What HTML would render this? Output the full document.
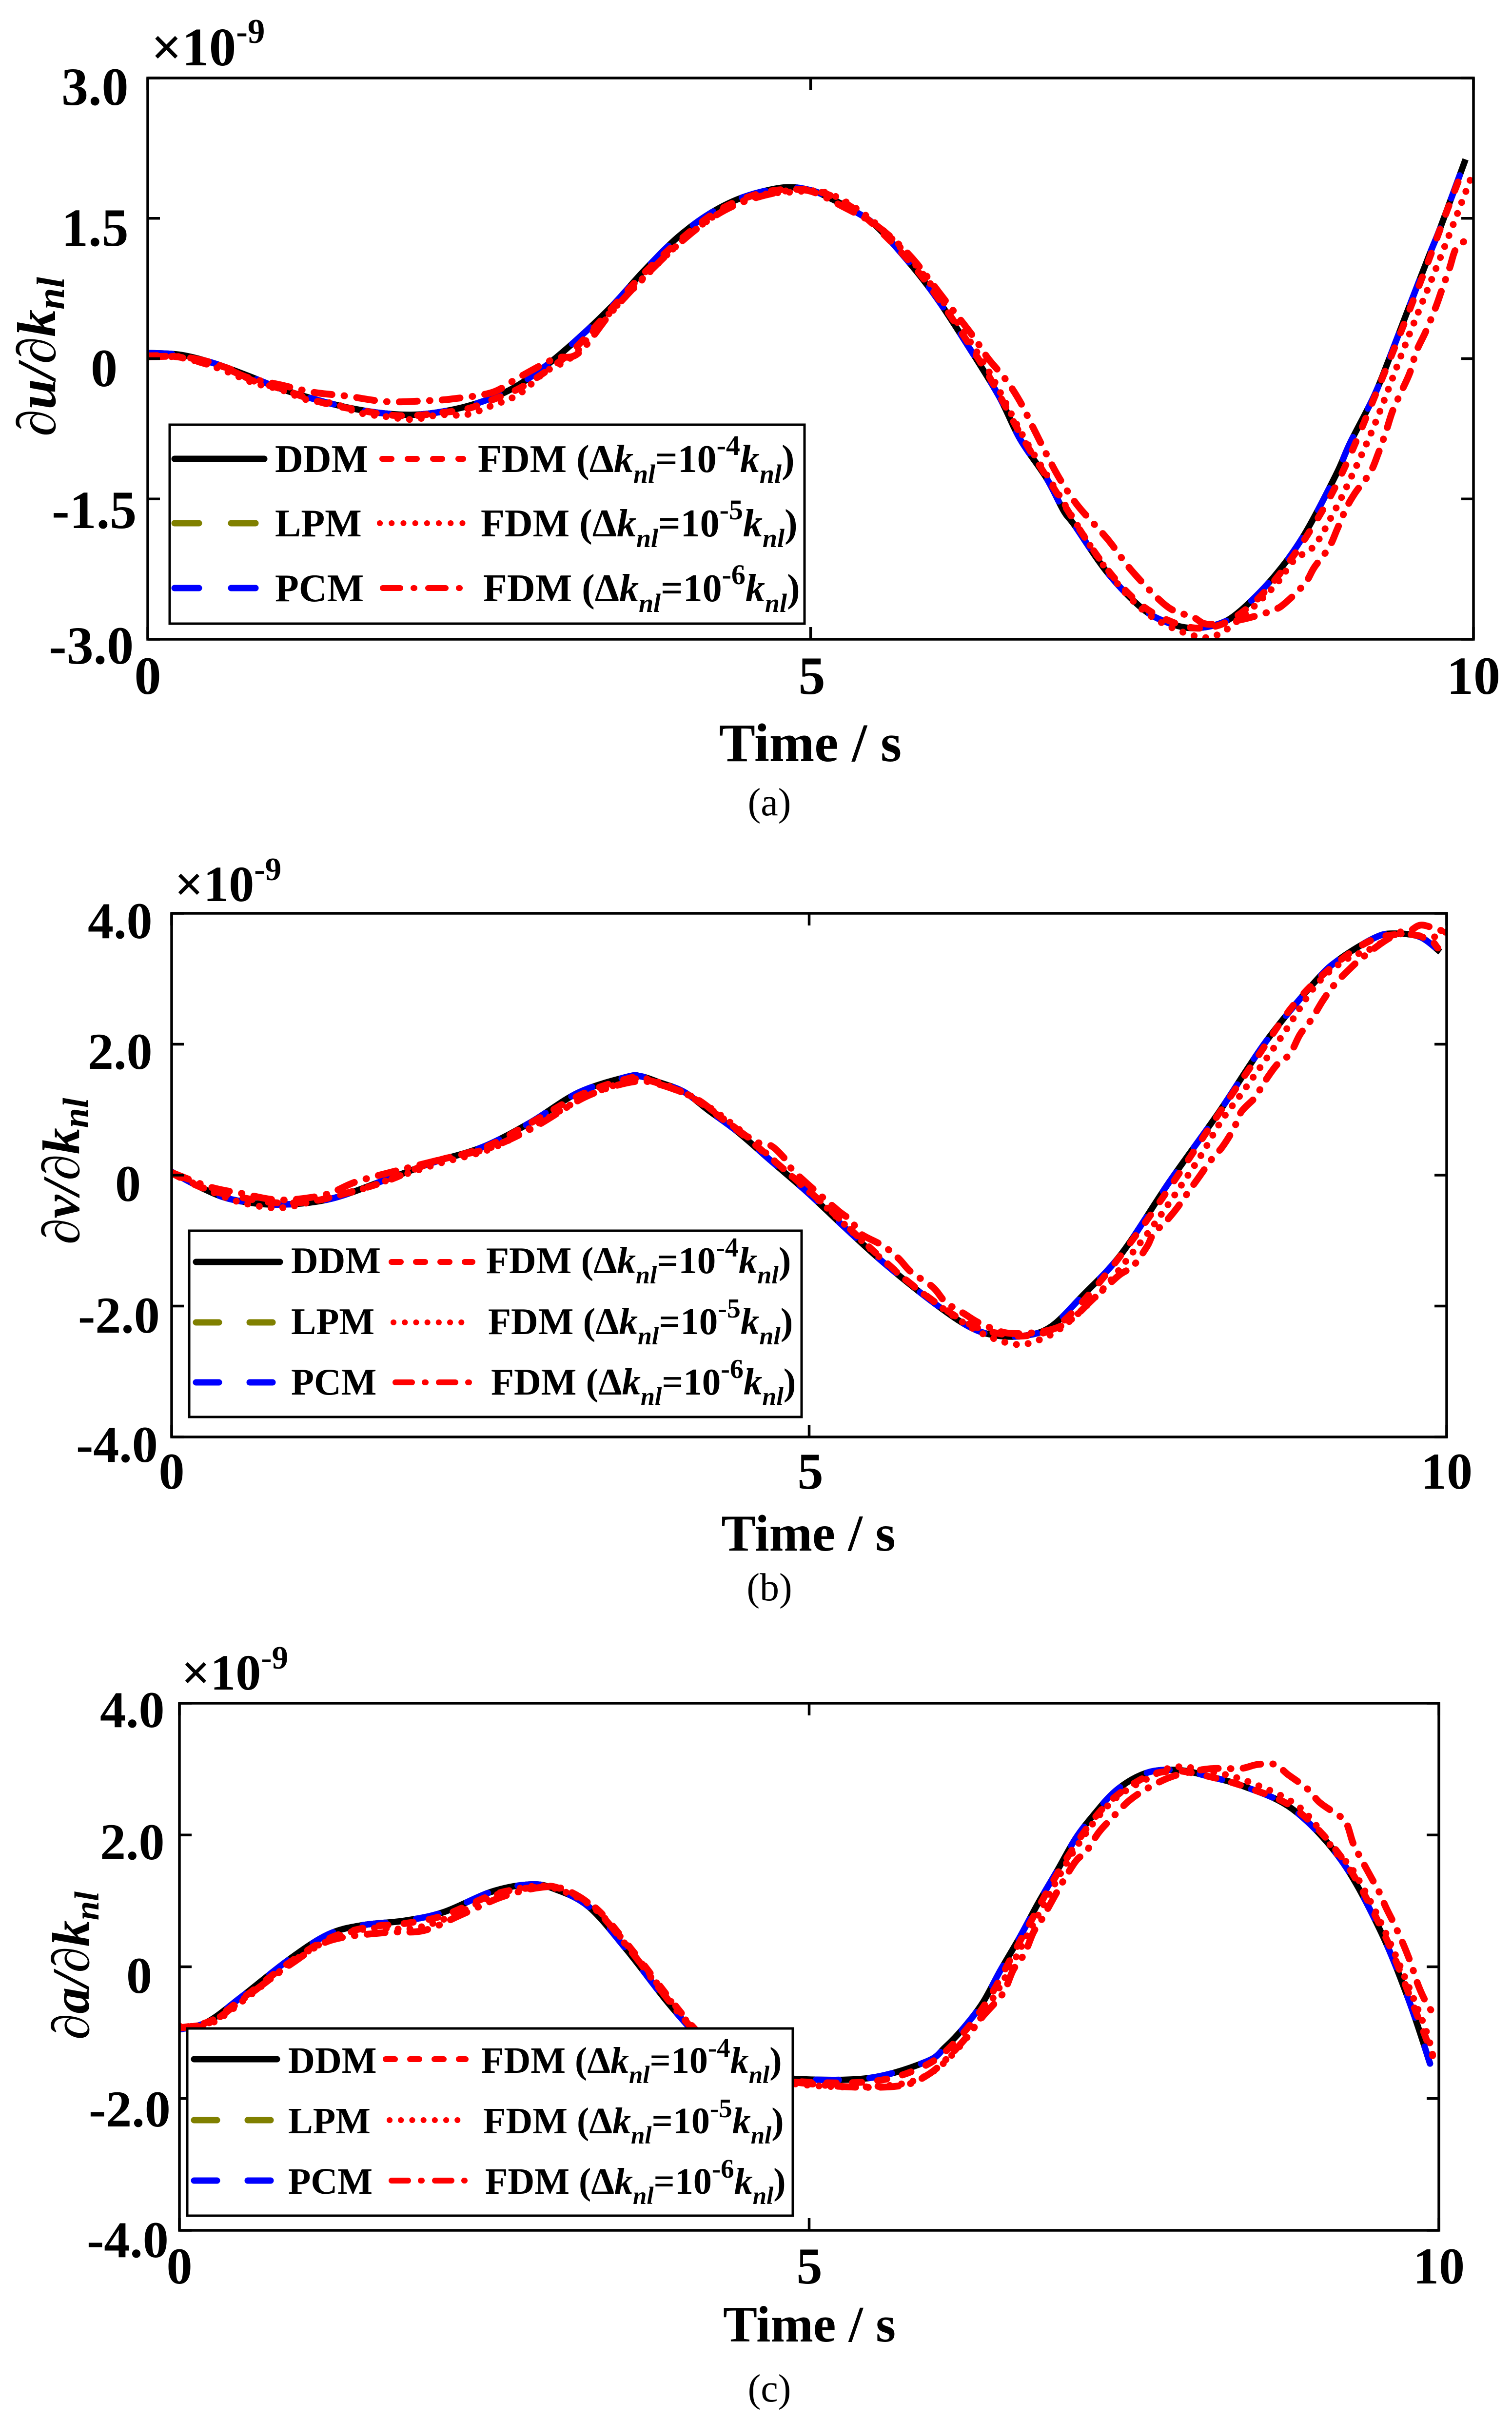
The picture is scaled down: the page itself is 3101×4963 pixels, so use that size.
<!DOCTYPE html>
<html lang="en">
<head>
<meta charset="utf-8">
<title>Sensitivity comparison charts</title>
<style>
html,body{margin:0;padding:0;background:#fff}
svg{display:block}
text{font-family:"Liberation Serif",serif;fill:#000}
.b{font-weight:bold}
.i{font-style:italic}
</style>
</head>
<body>
<svg id="chart" xmlns="http://www.w3.org/2000/svg" width="3101" height="4963" viewBox="0 0 3101 4963">
<rect x="0" y="0" width="3101" height="4963" fill="#fff"/>

<g id="panel-a">
  <g id="plot-a"></g>
  <g class="b" font-size="110">
    <text x="126" y="215">3.0</text>
    <text x="126" y="504">1.5</text>
    <text x="186" y="792">0</text>
    <text x="106" y="1083">-1.5</text>
    <text x="100" y="1361">-3.0</text>
  </g>
  <g class="b" font-size="110" text-anchor="middle">
    <text x="303" y="1423">0</text>
    <text x="1665" y="1423">5</text>
    <text x="3022" y="1423">10</text>
  </g>
  <text class="b" font-size="111" text-anchor="middle" x="1662" y="1561">Time / s</text>
  <text class="b" font-size="112" transform="translate(113 895) rotate(-90)"><tspan font-weight="normal">∂</tspan><tspan class="i">u</tspan><tspan class="i">/</tspan><tspan font-weight="normal">∂</tspan><tspan class="i">k</tspan><tspan class="i" font-size="80" dy="18">nl</tspan></text>
  <text class="b" font-size="111" x="310" y="134">×10<tspan font-size="71" dy="-46">-9</tspan></text>
  <text font-size="80" text-anchor="middle" x="1578" y="1672">(a)</text>
  <g>
    <rect x="348" y="871" width="1302" height="408" fill="#fff" stroke="#000" stroke-width="5"/>
    <line x1="358" y1="941" x2="542" y2="941" stroke="#000" stroke-width="13" stroke-linecap="round"/>
    <line x1="358" y1="1073" x2="525" y2="1073" stroke="#808000" stroke-width="13" stroke-linecap="round" stroke-dasharray="50 66"/>
    <line x1="358" y1="1206" x2="525" y2="1206" stroke="#0000ff" stroke-width="13" stroke-linecap="round" stroke-dasharray="50 66"/>
    <line x1="784" y1="941" x2="950" y2="941" stroke="#ff0000" stroke-width="12" stroke-linecap="round" stroke-dasharray="19 33"/>
    <line x1="779" y1="1073" x2="953" y2="1073" stroke="#ff0000" stroke-width="12" stroke-linecap="round" stroke-dasharray="0.1 24.1"/>
    <line x1="785" y1="1206" x2="944" y2="1206" stroke="#ff0000" stroke-width="12" stroke-linecap="round" stroke-dasharray="36 27 2 28"/>
    <g class="b" font-size="80">
      <text x="564" y="968">DDM</text>
      <text x="564" y="1100">LPM</text>
      <text x="564" y="1233">PCM</text>
      <text x="980" y="968">FDM (Δ<tspan class="i">k</tspan><tspan class="i" font-size="54" dy="22">nl</tspan><tspan dy="-22">=10</tspan><tspan font-size="58" dy="-35">-4</tspan><tspan class="i" dy="35">k</tspan><tspan class="i" font-size="54" dy="22">nl</tspan><tspan dy="-22">)</tspan></text>
      <text x="986" y="1100">FDM (Δ<tspan class="i">k</tspan><tspan class="i" font-size="54" dy="22">nl</tspan><tspan dy="-22">=10</tspan><tspan font-size="58" dy="-35">-5</tspan><tspan class="i" dy="35">k</tspan><tspan class="i" font-size="54" dy="22">nl</tspan><tspan dy="-22">)</tspan></text>
      <text x="991" y="1233">FDM (Δ<tspan class="i">k</tspan><tspan class="i" font-size="54" dy="22">nl</tspan><tspan dy="-22">=10</tspan><tspan font-size="58" dy="-35">-6</tspan><tspan class="i" dy="35">k</tspan><tspan class="i" font-size="54" dy="22">nl</tspan><tspan dy="-22">)</tspan></text>
    </g>
  </g>
</g>

<g id="panel-b">
  <g id="plot-b"></g>
  <g class="b" font-size="106">
    <text x="180" y="1924">4.0</text>
    <text x="180" y="2192">2.0</text>
    <text x="236" y="2463">0</text>
    <text x="160" y="2733">-2.0</text>
    <text x="156" y="2998">-4.0</text>
  </g>
  <g class="b" font-size="106" text-anchor="middle">
    <text x="352" y="3053">0</text>
    <text x="1662" y="3053">5</text>
    <text x="2967" y="3053">10</text>
  </g>
  <text class="b" font-size="106" text-anchor="middle" x="1658" y="3180">Time / s</text>
  <text class="b" font-size="108" transform="translate(162 2552) rotate(-90)"><tspan font-weight="normal">∂</tspan><tspan class="i">v</tspan><tspan class="i">/</tspan><tspan font-weight="normal">∂</tspan><tspan class="i">k</tspan><tspan class="i" font-size="74" dy="18">nl</tspan></text>
  <text class="b" font-size="104" x="358" y="1848">×10<tspan font-size="67" dy="-43">-9</tspan></text>
  <text font-size="80" text-anchor="middle" x="1578" y="3282">(b)</text>
  <g>
    <rect x="388" y="2524" width="1256" height="382" fill="#fff" stroke="#000" stroke-width="5"/>
    <line x1="402" y1="2588" x2="574" y2="2588" stroke="#000" stroke-width="13" stroke-linecap="round"/>
    <line x1="402" y1="2712" x2="562" y2="2712" stroke="#808000" stroke-width="13" stroke-linecap="round" stroke-dasharray="47 63"/>
    <line x1="402" y1="2835" x2="562" y2="2835" stroke="#0000ff" stroke-width="13" stroke-linecap="round" stroke-dasharray="47 63"/>
    <line x1="803" y1="2588" x2="969" y2="2588" stroke="#ff0000" stroke-width="12" stroke-linecap="round" stroke-dasharray="19 31"/>
    <line x1="807" y1="2712" x2="969" y2="2712" stroke="#ff0000" stroke-width="12" stroke-linecap="round" stroke-dasharray="0.1 23.1"/>
    <line x1="811" y1="2835" x2="963" y2="2835" stroke="#ff0000" stroke-width="12" stroke-linecap="round" stroke-dasharray="34 26 2 27"/>
    <g class="b" font-size="77">
      <text x="597" y="2611">DDM</text>
      <text x="597" y="2736">LPM</text>
      <text x="597" y="2860">PCM</text>
      <text x="997" y="2611">FDM (Δ<tspan class="i">k</tspan><tspan class="i" font-size="52" dy="21">nl</tspan><tspan dy="-21">=10</tspan><tspan font-size="56" dy="-34">-4</tspan><tspan class="i" dy="34">k</tspan><tspan class="i" font-size="52" dy="21">nl</tspan><tspan dy="-21">)</tspan></text>
      <text x="1001" y="2736">FDM (Δ<tspan class="i">k</tspan><tspan class="i" font-size="52" dy="21">nl</tspan><tspan dy="-21">=10</tspan><tspan font-size="56" dy="-34">-5</tspan><tspan class="i" dy="34">k</tspan><tspan class="i" font-size="52" dy="21">nl</tspan><tspan dy="-21">)</tspan></text>
      <text x="1007" y="2860">FDM (Δ<tspan class="i">k</tspan><tspan class="i" font-size="52" dy="21">nl</tspan><tspan dy="-21">=10</tspan><tspan font-size="56" dy="-34">-6</tspan><tspan class="i" dy="34">k</tspan><tspan class="i" font-size="52" dy="21">nl</tspan><tspan dy="-21">)</tspan></text>
    </g>
  </g>
</g>

<g id="panel-c">
  <g id="plot-c"></g>
  <g class="b" font-size="106">
    <text x="205" y="3542">4.0</text>
    <text x="205" y="3813">2.0</text>
    <text x="259" y="4087">0</text>
    <text x="182" y="4361">-2.0</text>
    <text x="178" y="4629">-4.0</text>
  </g>
  <g class="b" font-size="106" text-anchor="middle">
    <text x="368" y="4683">0</text>
    <text x="1660" y="4683">5</text>
    <text x="2951" y="4683">10</text>
  </g>
  <text class="b" font-size="105" text-anchor="middle" x="1660" y="4802">Time / s</text>
  <text class="b" font-size="108" transform="translate(182 4183) rotate(-90)"><tspan font-weight="normal">∂</tspan><tspan class="i">a</tspan><tspan class="i">/</tspan><tspan font-weight="normal">∂</tspan><tspan class="i">k</tspan><tspan class="i" font-size="71" dy="20">nl</tspan></text>
  <text class="b" font-size="104" x="372" y="3465">×10<tspan font-size="67" dy="-43">-9</tspan></text>
  <text font-size="80" text-anchor="middle" x="1578" y="4925">(c)</text>
  <g>
    <rect x="384" y="4160" width="1242" height="384" fill="#fff" stroke="#000" stroke-width="5"/>
    <line x1="398" y1="4223" x2="568" y2="4223" stroke="#000" stroke-width="13" stroke-linecap="round"/>
    <line x1="398" y1="4348" x2="558" y2="4348" stroke="#808000" stroke-width="13" stroke-linecap="round" stroke-dasharray="47 63"/>
    <line x1="398" y1="4472" x2="558" y2="4472" stroke="#0000ff" stroke-width="13" stroke-linecap="round" stroke-dasharray="47 63"/>
    <line x1="791" y1="4223" x2="955" y2="4223" stroke="#ff0000" stroke-width="12" stroke-linecap="round" stroke-dasharray="19 31"/>
    <line x1="799" y1="4348" x2="957" y2="4348" stroke="#ff0000" stroke-width="12" stroke-linecap="round" stroke-dasharray="0.1 23.1"/>
    <line x1="803" y1="4472" x2="953" y2="4472" stroke="#ff0000" stroke-width="12" stroke-linecap="round" stroke-dasharray="34 26 2 27"/>
    <g class="b" font-size="76">
      <text x="591" y="4251">DDM</text>
      <text x="591" y="4375">LPM</text>
      <text x="591" y="4499">PCM</text>
      <text x="987" y="4251">FDM (Δ<tspan class="i">k</tspan><tspan class="i" font-size="51" dy="21">nl</tspan><tspan dy="-21">=10</tspan><tspan font-size="55" dy="-33">-4</tspan><tspan class="i" dy="33">k</tspan><tspan class="i" font-size="51" dy="21">nl</tspan><tspan dy="-21">)</tspan></text>
      <text x="991" y="4375">FDM (Δ<tspan class="i">k</tspan><tspan class="i" font-size="51" dy="21">nl</tspan><tspan dy="-21">=10</tspan><tspan font-size="55" dy="-33">-5</tspan><tspan class="i" dy="33">k</tspan><tspan class="i" font-size="51" dy="21">nl</tspan><tspan dy="-21">)</tspan></text>
      <text x="995" y="4499">FDM (Δ<tspan class="i">k</tspan><tspan class="i" font-size="51" dy="21">nl</tspan><tspan dy="-21">=10</tspan><tspan font-size="55" dy="-33">-6</tspan><tspan class="i" dy="33">k</tspan><tspan class="i" font-size="51" dy="21">nl</tspan><tspan dy="-21">)</tspan></text>
    </g>
  </g>
</g>
</svg>

<script>
/* ---------- Panel (a): du/dk_nl, units of 1e-9 ---------- */
const timeA = [0,.25,.5,.75,1,1.25,1.5,1.75,2,2.25,2.5,2.75,3,3.25,3.5,3.75,4,4.25,4.5,4.8,5,5.14,5.34,5.5,5.76,5.96,6.19,6.42,6.58,6.78,6.91,6.99,7.24,7.5,7.69,7.87,8.07,8.23,8.49,8.72,8.96,9.07,9.25,9.37,9.5,9.67,9.75,9.94];
const ddmA = [.06,.04,-.05,-.18,-.32,-.43,-.52,-.58,-.60,-.56,-.47,-.32,-.08,.22,.56,.95,1.30,1.56,1.73,1.83,1.80,1.72,1.57,1.41,1.0,.63,.13,-.40,-.86,-1.28,-1.63,-1.78,-2.29,-2.67,-2.82,-2.88,-2.84,-2.71,-2.34,-1.89,-1.25,-.90,-.40,.02,.50,1.12,1.40,2.13];
const lpmA = [.06,.04,-.05,-.18,-.32,-.43,-.52,-.58,-.60,-.56,-.47,-.32,-.08,.22,.56,.95,1.30,1.56,1.73,1.83,1.80,1.72,1.57,1.41,1.0,.63,.13,-.40,-.86,-1.28,-1.63,-1.78,-2.29,-2.67,-2.82,-2.88,-2.84,-2.71,-2.34,-1.89,-1.25,-.90,-.40,.02,.50,1.12,1.40,2.13];
const pcmA = [.06,.04,-.05,-.18,-.32,-.43,-.52,-.58,-.60,-.56,-.47,-.32,-.08,.22,.56,.95,1.30,1.56,1.73,1.83,1.80,1.72,1.57,1.41,1.0,.63,.13,-.40,-.86,-1.28,-1.63,-1.78,-2.29,-2.67,-2.82,-2.88,-2.84,-2.71,-2.34,-1.89,-1.25,-.90,-.40,.02,.50,1.12,1.40,2.13];
const timeFdm4A = [0,.15,.3,.45,.6,.8,1,1.2,1.4,1.6,1.8,2,2.2,2.4,2.6,2.8,3,3.2,3.4,3.7,4,4.3,4.6,4.85,5.1,5.35,5.6,5.85,6.1,6.35,6.6,6.85,7.1,7.3,7.5,7.7,7.9,8.1,8.3,8.5,8.75,9,9.3,9.6,9.8,9.92];
const fdm4A = [.03,.03,0,-.06,-.10,-.24,-.32,-.42,-.50,-.55,-.60,-.61,-.58,-.54,-.44,-.32,-.14,.08,.38,.85,1.25,1.58,1.76,1.81,1.77,1.58,1.26,.86,.36,-.2,-.85,-1.42,-1.98,-2.36,-2.64,-2.80,-2.88,-2.84,-2.66,-2.37,-1.88,-1.25,-.25,.82,1.58,2.02];
const timeFdm5A = [0,.2,.4,.6,.8,1,1.2,1.4,1.6,1.8,2,2.2,2.4,2.6,2.8,3,3.2,3.4,3.7,4,4.3,4.6,4.85,5.1,5.35,5.6,5.85,6.1,6.35,6.6,6.85,7.1,7.3,7.5,7.7,7.95,8.1,8.28,8.41,8.53,8.65,8.8,8.94,9.06,9.25,9.5,9.75,10];
const fdm5A = [.02,.02,-.04,-.14,-.26,-.33,-.44,-.48,-.58,-.62,-.65,-.60,-.60,-.50,-.38,-.14,.02,.36,.80,1.22,1.55,1.74,1.78,1.78,1.6,1.3,.9,.4,-.15,-.82,-1.4,-1.98,-2.38,-2.68,-2.86,-2.98,-2.93,-2.73,-2.56,-2.38,-2.15,-2.0,-1.66,-1.32,-.72,.2,1.08,2.0];
const timeFdm6A = [0,.25,.5,.75,1,1.25,1.5,1.8,2.1,2.3,2.6,2.8,3.07,3.25,3.5,3.75,4,4.25,4.5,4.8,5,5.25,5.5,5.75,6,6.22,6.34,6.47,6.58,6.69,6.8,6.89,7.02,7.24,7.43,7.69,7.88,8,8.25,8.49,8.59,8.73,8.8,8.91,8.97,9.04,9.11,9.22,9.28,9.34,9.39,9.46,9.52,9.57,9.64,9.71,9.76,9.82,9.87,9.96];
const fdm6A = [.02,.02,-.05,-.2,-.28,-.36,-.40,-.46,-.45,-.43,-.36,-.2,0,.06,.5,.88,1.22,1.5,1.68,1.79,1.79,1.62,1.42,1.10,.65,.25,0,-.22,-.46,-.77,-1.08,-1.31,-1.58,-1.93,-2.28,-2.65,-2.76,-2.84,-2.79,-2.69,-2.6,-2.40,-2.23,-2.02,-1.83,-1.6,-1.43,-1.22,-1.02,-.78,-.56,-.34,-.15,.08,.29,.53,.73,.97,1.18,1.28];
const xTicksA = [0,5,10];
const yTicksA = [3,1.5,0,-1.5,-3];

/* ---------- Panel (b): dv/dk_nl, units of 1e-9 ---------- */
const timeB = [0,.24,.47,.81,1.23,1.68,2.06,2.44,2.81,3.19,3.57,3.68,3.82,4.02,4.21,4.44,4.7,4.99,5.28,5.58,5.97,6.26,6.47,6.7,6.9,7.14,7.45,7.83,8.21,8.59,8.97,9.16,9.44,9.59,9.79,9.95];
const ddmB = [.05,-.2,-.37,-.45,-.37,-.07,.2,.43,.8,1.26,1.5,1.51,1.42,1.27,.99,.66,.22,-.27,-.8,-1.33,-1.94,-2.32,-2.45,-2.45,-2.31,-1.85,-1.2,-.09,.95,2.06,2.96,3.3,3.63,3.69,3.64,3.41];
const lpmB = [.05,-.2,-.37,-.45,-.37,-.07,.2,.43,.8,1.26,1.5,1.51,1.42,1.27,.99,.66,.22,-.27,-.8,-1.33,-1.94,-2.32,-2.45,-2.45,-2.31,-1.85,-1.2,-.09,.95,2.06,2.96,3.3,3.63,3.69,3.64,3.41];
const pcmB = [.05,-.2,-.37,-.45,-.37,-.07,.2,.43,.8,1.26,1.5,1.51,1.42,1.27,.99,.66,.22,-.27,-.8,-1.33,-1.94,-2.32,-2.45,-2.45,-2.31,-1.85,-1.2,-.09,.95,2.06,2.96,3.3,3.63,3.69,3.64,3.41];
const timeFdm4B = [0,.25,.5,.8,1.1,1.4,1.7,2.05,2.45,2.8,3.2,3.55,3.7,4.05,4.4,4.7,5.1,5.5,5.85,6.25,6.55,6.75,6.95,7.25,7.6,7.9,8.2,8.5,8.8,9.1,9.4,9.65,9.85,9.93];
const fdm4B = [.03,-.2,-.32,-.42,-.40,-.26,-.08,.2,.42,.78,1.22,1.46,1.47,1.22,.74,.26,-.42,-1.15,-1.74,-2.27,-2.44,-2.44,-2.3,-1.7,-.82,.02,.9,1.76,2.6,3.18,3.58,3.68,3.62,3.47];
const timeFdm5B = [0,.3,.55,.85,1.15,1.45,1.75,2.1,2.5,2.85,3.25,3.6,3.75,4.1,4.45,4.75,5.15,5.55,5.9,6.3,6.6,6.8,7,7.3,7.55,7.74,8.05,8.23,8.4,8.7,8.97,9.2,9.42,9.65,9.85,10];
const fdm5B = [.04,-.24,-.42,-.5,-.38,-.24,-.04,.18,.4,.76,1.2,1.45,1.46,1.18,.7,.18,-.52,-1.25,-1.82,-2.36,-2.58,-2.52,-2.3,-1.75,-1.15,-.66,.23,.82,1.27,2.1,2.89,3.28,3.47,3.72,3.62,3.72];
const timeFdm6B = [0,.3,.55,.85,1.2,1.45,1.83,2.2,2.5,2.85,3.25,3.6,3.8,4.1,4.3,4.56,4.7,4.81,4.89,5.22,5.33,5.4,5.58,5.7,5.8,5.97,6.07,6.21,6.36,6.6,6.97,7.25,7.43,7.54,7.65,7.7,7.81,7.89,7.98,8.05,8.16,8.24,8.33,8.39,8.5,8.56,8.67,8.77,8.85,8.94,9.03,9.12,9.25,9.35,9.55,9.7,9.8,9.93,10];
const fdm6B = [.04,-.18,-.28,-.38,-.3,-.1,.1,.28,.42,.74,1.2,1.42,1.4,1.18,.9,.53,.45,.25,.04,-.53,-.69,-.89,-1.08,-1.27,-1.48,-1.71,-1.94,-2.11,-2.28,-2.42,-2.31,-1.85,-1.53,-1.39,-1.09,-.9,-.68,-.49,-.24,-.05,.25,.43,.71,.97,1.19,1.39,1.69,1.85,2.15,2.38,2.67,2.91,3.17,3.34,3.62,3.72,3.82,3.75,3.72];
const xTicksB = [0,5,10];
const yTicksB = [4,2,0,-2,-4];

/* ---------- Panel (c): da/dk_nl, units of 1e-9 ---------- */
const timeC = [0,.22,.49,.87,1.18,1.45,1.79,2.1,2.48,2.79,2.98,3.25,3.55,3.86,4.09,4.3,4.6,4.87,5.47,5.93,6.08,6.23,6.38,6.52,6.67,6.82,6.97,7.12,7.27,7.41,7.56,7.71,7.86,8,8.15,8.45,8.84,9.22,9.53,9.76,9.93];
const ddmC = [-.95,-.84,-.46,.11,.49,.63,.7,.83,1.14,1.25,1.18,.91,.26,-.5,-1.0,-1.35,-1.6,-1.7,-1.69,-1.44,-1.22,-.92,-.54,-.05,.44,.97,1.46,1.96,2.33,2.63,2.84,2.96,2.99,2.97,2.9,2.74,2.39,1.63,.57,-.5,-1.47];
const lpmC = [-.95,-.84,-.46,.11,.49,.63,.7,.83,1.14,1.25,1.18,.91,.26,-.5,-1.0,-1.35,-1.6,-1.7,-1.69,-1.44,-1.22,-.92,-.54,-.05,.44,.97,1.46,1.96,2.33,2.63,2.84,2.96,2.99,2.97,2.9,2.74,2.39,1.63,.57,-.5,-1.47];
const pcmC = [-.95,-.84,-.46,.11,.49,.63,.7,.83,1.14,1.25,1.18,.91,.26,-.5,-1.0,-1.35,-1.6,-1.7,-1.69,-1.44,-1.22,-.92,-.54,-.05,.44,.97,1.46,1.96,2.33,2.63,2.84,2.96,2.99,2.97,2.9,2.74,2.39,1.63,.57,-.5,-1.47];
const timeFdm4C = [0,.25,.5,.9,1.2,1.5,1.8,2.1,2.5,2.8,3,3.3,3.6,3.9,4.12,4.33,4.63,4.9,5.5,5.9,6.15,6.42,6.72,7.03,7.33,7.64,7.87,8.1,8.48,8.87,9.25,9.56,9.79,9.95];
const fdm4C = [-.93,-.82,-.48,.1,.44,.6,.66,.78,1.1,1.2,1.2,.9,.24,-.5,-1.0,-1.35,-1.6,-1.74,-1.74,-1.52,-1.16,-.5,.55,1.6,2.4,2.85,2.97,2.92,2.72,2.38,1.6,.52,-.55,-1.35];
const timeFdm5C = [0,.25,.55,.9,1.2,1.5,1.85,2.15,2.5,2.8,3,3.3,3.6,3.9,4.12,4.35,4.65,4.9,5.5,5.9,6.2,6.5,6.8,7.1,7.4,7.7,7.9,8.15,8.5,8.9,9.2,9.31,9.56,9.87,9.95];
const fdm5C = [-.9,-.86,-.45,.08,.42,.58,.58,.76,1.08,1.22,1.18,.88,.22,-.52,-1.02,-1.38,-1.62,-1.78,-1.82,-1.68,-1.2,-.35,.72,1.75,2.5,2.87,3.03,2.98,2.8,2.41,1.69,1.49,.59,-.82,-1.33];
const timeFdm6C = [0,.25,.5,.9,1.2,1.64,1.94,2.25,2.56,2.85,3.05,3.3,3.6,3.9,4.12,4.4,4.7,5.08,5.47,5.77,5.95,6.08,6.24,6.38,6.47,6.55,6.62,6.71,6.78,6.85,6.94,7.02,7.12,7.2,7.3,7.41,7.54,7.67,7.82,7.94,8.12,8.24,8.43,8.56,8.7,8.8,8.95,9.05,9.16,9.26,9.32,9.39,9.47,9.52,9.58,9.65,9.72,9.78,9.84,9.91,9.99];
const fdm6C = [-.93,-.84,-.5,.06,.4,.52,.55,.8,1.06,1.2,1.18,.88,.2,-.55,-1.02,-1.42,-1.68,-1.79,-1.83,-1.79,-1.63,-1.42,-1.09,-.75,-.56,-.37,-.05,.2,.52,.73,1.04,1.31,1.61,1.75,2.04,2.27,2.52,2.69,2.84,2.92,2.99,3.01,3.01,3.07,3.07,2.92,2.71,2.5,2.35,2.2,1.87,1.61,1.33,1.16,.9,.63,.33,.04,-.3,-.58,-.79];
const xTicksC = [0,5,10];
const yTicksC = [4,2,0,-2,-4];

const SVGNS = 'http://www.w3.org/2000/svg';
const X_MIN = 0, X_MAX = 10, TICK_LEN = 25;

function xScale(f, t) {
  return f.left + (t - X_MIN) / (X_MAX - X_MIN) * (f.right - f.left);
}
function yScale(f, v) {
  return f.bottom - (v - f.yMin) / (f.yMax - f.yMin) * (f.bottom - f.top);
}
function curvePath(f, ts, vs) {
  const n = Math.min(ts.length, vs.length);
  const p = [];
  for (let i = 0; i < n; i++) p.push([xScale(f, ts[i]), yScale(f, vs[i])]);
  let d = 'M' + p[0][0].toFixed(1) + ' ' + p[0][1].toFixed(1);
  for (let i = 0; i < n - 1; i++) {
    const a = p[Math.max(i - 1, 0)], b = p[i], c = p[i + 1], e = p[Math.min(i + 2, n - 1)];
    const c1x = b[0] + (c[0] - a[0]) / 6, c1y = b[1] + (c[1] - a[1]) / 6;
    const c2x = c[0] - (e[0] - b[0]) / 6, c2y = c[1] - (e[1] - b[1]) / 6;
    d += 'C' + c1x.toFixed(1) + ' ' + c1y.toFixed(1) + ' ' + c2x.toFixed(1) + ' ' + c2y.toFixed(1) + ' ' + c[0].toFixed(1) + ' ' + c[1].toFixed(1);
  }
  return d;
}
function drawTick(parent, x1, y1, x2, y2) {
  const el = document.createElementNS(SVGNS, 'line');
  
  
  el.setAttribute('x1', x1);
  el.setAttribute('y1', y1);
  el.setAttribute('x2', x2);
  el.setAttribute('y2', y2);
  el.setAttribute('stroke', '#000');
  el.setAttribute('stroke-width', '5.5');
  parent.appendChild(el);
}
function drawPanel(id, f, series, xTicks, yTicks) {
  const g = document.getElementById('plot-' + id);
  const clip = document.createElementNS(SVGNS, 'clipPath');
  clip.setAttribute('id', 'clip-' + id);
  const cr = document.createElementNS(SVGNS, 'rect');
  cr.setAttribute('x', f.left);
  cr.setAttribute('y', f.top);
  cr.setAttribute('width', f.right - f.left);
  cr.setAttribute('height', f.bottom - f.top);
  clip.appendChild(cr);
  g.appendChild(clip);

  const lines = document.createElementNS(SVGNS, 'g');
  
  
  lines.setAttribute('clip-path', 'url(#clip-' + id + ')');
  g.appendChild(lines);
  series.forEach(function (s) {
    const path = document.createElementNS(SVGNS, 'path');
    
    
    path.setAttribute('d', curvePath(f, s.t, s.y));
    path.setAttribute('fill', 'none');
    path.setAttribute('stroke', s.color);
    path.setAttribute('stroke-width', s.width);
    path.setAttribute('stroke-linejoin', 'round');
    path.setAttribute('stroke-linecap', s.dash ? 'round' : 'butt');
    if (s.dash) path.setAttribute('stroke-dasharray', s.dash);
    lines.appendChild(path);
  });

  const frame = document.createElementNS(SVGNS, 'rect');
  
  
  frame.setAttribute('x', f.left);
  frame.setAttribute('y', f.top);
  frame.setAttribute('width', f.right - f.left);
  frame.setAttribute('height', f.bottom - f.top);
  frame.setAttribute('fill', 'none');
  frame.setAttribute('stroke', '#000');
  frame.setAttribute('stroke-width', '5.5');
  g.appendChild(frame);

  xTicks.forEach(function (t) {
    const x = xScale(f, t);
    drawTick(g, x, f.top, x, f.top + TICK_LEN);
    drawTick(g, x, f.bottom, x, f.bottom - TICK_LEN);
  });
  yTicks.forEach(function (v) {
    const y = yScale(f, v);
    drawTick(g, f.left, y, f.left + TICK_LEN, y);
    drawTick(g, f.right, y, f.right - TICK_LEN, y);
  });
}
function seriesSet(t, ddm, lpm, pcm, t4, f4, t5, f5, t6, f6, dashMain) {
  return [
    {name: 'series-ddm', color: '#000000', width: 13, dash: '', t: t, y: ddm},
    {name: 'series-lpm', color: '#808000', width: 13, dash: dashMain, t: t, y: lpm},
    {name: 'series-pcm', color: '#0000ff', width: 13, dash: dashMain, t: t, y: pcm},
    {name: 'series-fdm-1e-4', color: '#ff0000', width: 14, dash: '19 33', t: t4, y: f4},
    {name: 'series-fdm-1e-5', color: '#ff0000', width: 14, dash: '0.1 24.1', t: t5, y: f5},
    {name: 'series-fdm-1e-6', color: '#ff0000', width: 14, dash: '37 25 1 25', t: t6, y: f6}
  ];
}
drawPanel('a', {left: 303, right: 3022, top: 160, bottom: 1311, yMin: -3, yMax: 3},
  seriesSet(timeA, ddmA, lpmA, pcmA, timeFdm4A, fdm4A, timeFdm5A, fdm5A, timeFdm6A, fdm6A, '50 66'), xTicksA, yTicksA);
drawPanel('b', {left: 352, right: 2967, top: 1873, bottom: 2947, yMin: -4, yMax: 4},
  seriesSet(timeB, ddmB, lpmB, pcmB, timeFdm4B, fdm4B, timeFdm5B, fdm5B, timeFdm6B, fdm6B, '47 63'), xTicksB, yTicksB);
drawPanel('c', {left: 368, right: 2951, top: 3493, bottom: 4574, yMin: -4, yMax: 4},
  seriesSet(timeC, ddmC, lpmC, pcmC, timeFdm4C, fdm4C, timeFdm5C, fdm5C, timeFdm6C, fdm6C, '47 63'), xTicksC, yTicksC);
</script>
</body>
</html>
